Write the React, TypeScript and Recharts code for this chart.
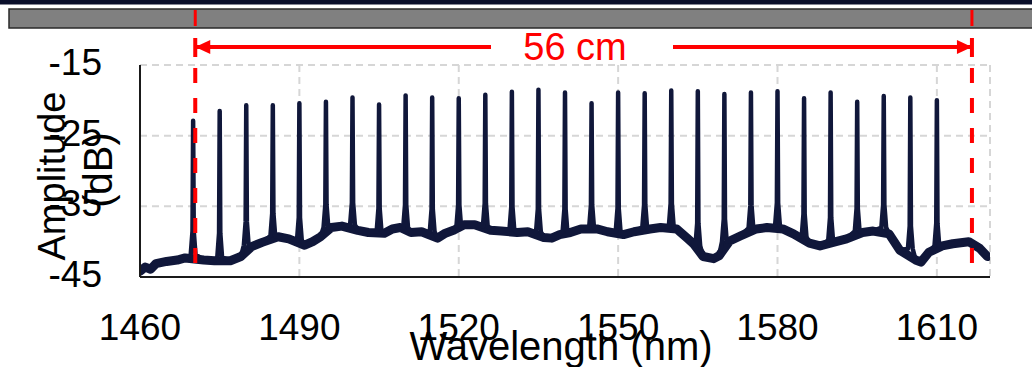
import { CartesianGrid, ComposedChart, Line, XAxis, YAxis } from "recharts";

const W = 1032;
const H = 367;
const PLOT_LEFT = 140;
const PLOT_RIGHT = 990;
const FONT = '"Liberation Sans", Arial, sans-serif';
const TRACE = "#10173a";
const RED = "#ff0000";

const X_DOMAIN: [number, number] = [1460, 1620];
const X_TICKS = [1460, 1490, 1520, 1550, 1580, 1610];
const Y_DOMAIN: [number, number] = [-45, -15];
const Y_TICKS = [-45, -35, -25, -15];

// comb lines, 5 nm apart
const PEAK_WL = [
  1470, 1475, 1480, 1485, 1490, 1495, 1500, 1505, 1510, 1515, 1520, 1525, 1530,
  1535, 1540, 1545, 1550, 1555, 1560, 1565, 1570, 1575, 1580, 1585, 1590, 1595,
  1600, 1605, 1610,
];
const PEAK_DB = [
  -22.9, -21.5, -20.7, -20.7, -20.4, -20.2, -19.6, -20.6, -19.3, -19.6, -19.7,
  -19.2, -18.8, -18.5, -18.9, -20.4, -18.9, -19.0, -18.6, -18.7, -19.1, -18.9,
  -18.7, -19.7, -18.9, -20.2, -19.4, -19.6, -20.0,
];
const PEAK_FOOT_DB = [
  -41.8, -42.2, -40.5, -39.2, -39.8, -38.0, -37.6, -38.5, -38.0, -38.6, -38.0,
  -37.8, -38.3, -38.6, -38.6, -38.0, -38.5, -38.0, -37.8, -40.6, -40.0, -38.1,
  -37.7, -39.3, -39.8, -38.5, -38.0, -41.0, -40.6,
];
// level where each line's skirt turns into the narrow peak
const PEAK_SKIRT_DB = [
  -38.5, -38.8, -37.2, -36.0, -36.6, -34.8, -34.5, -35.3, -34.8, -35.4, -34.8,
  -34.6, -35.1, -35.4, -35.4, -34.8, -35.3, -34.8, -34.6, -37.4, -36.8, -34.9,
  -34.5, -36.1, -36.6, -35.3, -34.8, -37.8, -37.4,
];

// noise floor between the lines
const BASE_WL = [
  1460, 1461, 1462, 1463, 1465, 1467, 1468.5, 1472, 1474, 1477, 1479, 1481, 1483,
  1486, 1488, 1491, 1492.5, 1494, 1496, 1498, 1501, 1503, 1506, 1507.5, 1509,
  1511, 1513, 1516, 1517.5, 1519, 1521, 1523, 1526, 1528, 1531, 1533, 1536,
  1537.5, 1539, 1541, 1543, 1546, 1548, 1551, 1553, 1556, 1558, 1561, 1563,
  1564.2, 1566, 1568, 1569, 1571, 1573, 1576, 1578, 1581, 1583, 1586, 1588, 1591,
  1593, 1596, 1598, 1601, 1603, 1606, 1607, 1608.5, 1611, 1613, 1616, 1618,
  1619.5,
];
const BASE_DB = [
  -44.2, -43.6, -43.9, -43.1, -42.8, -42.6, -42.3, -42.6, -42.7, -42.7, -42.1,
  -40.7, -40.1, -39.3, -39.6, -40.5, -40.0, -39.3, -38.0, -37.8, -38.4, -38.7,
  -38.8, -38.2, -38.0, -38.7, -38.6, -39.5, -38.8, -38.4, -37.6, -37.6, -38.4,
  -38.5, -38.7, -38.6, -39.4, -39.5, -39.0, -38.7, -38.2, -38.2, -38.6, -39.0,
  -38.6, -38.2, -38.0, -38.2, -39.5, -40.3, -42.1, -42.4, -42.0, -39.9, -39.2,
  -38.2, -38.0, -38.2, -38.9, -40.2, -40.6, -40.0, -39.6, -38.7, -38.5, -38.9,
  -41.2, -42.6, -42.9, -41.5, -40.6, -40.3, -40.0, -40.9, -42.1,
];

// 56 cm marker positions (nm)
const SPAN_WL = [1470.4, 1616.6];

const baseData = BASE_WL.map((wl, i) => ({ wl, db: BASE_DB[i] }));

const spectrumData = [
  ...baseData,
  ...PEAK_WL.flatMap((wl, i) => [
    { wl: wl - 0.45, db: PEAK_FOOT_DB[i] },
    { wl: wl - 0.12, db: PEAK_SKIRT_DB[i] },
    { wl, db: PEAK_DB[i] },
    { wl: wl + 0.12, db: PEAK_SKIRT_DB[i] },
    { wl: wl + 0.45, db: PEAK_FOOT_DB[i] },
  ]),
].sort((a, b) => a.wl - b.wl);

function xPx(wl: number) {
  return (
    PLOT_LEFT +
    ((wl - X_DOMAIN[0]) / (X_DOMAIN[1] - X_DOMAIN[0])) * (PLOT_RIGHT - PLOT_LEFT)
  );
}

function XTick({ x, payload }: any) {
  return (
    <text x={x} y={340} textAnchor="middle" fontSize={37} fill="#000" fontFamily={FONT}>
      {payload.value}
    </text>
  );
}

function YTick({ y, payload }: any) {
  return (
    <text x={102} y={y + 10} textAnchor="end" fontSize={37} fill="#000" fontFamily={FONT}>
      {payload.value}
    </text>
  );
}

function Overlay() {
  const [xl, xr] = SPAN_WL.map(xPx);
  const arrowY = 47;
  return (
    <svg
      width={W}
      height={H}
      style={{ position: "absolute", left: 0, top: 0, pointerEvents: "none" }}
      fontFamily={FONT}
    >
      <rect x={0} y={0} width={W} height={4.5} fill="#0a0f2b" />
      <rect x={9} y={9} width={W} height={19} fill="#808080" stroke="#2a2a2a" strokeWidth={1.5} />
      <line x1={xl} x2={xl} y1={10} y2={26} stroke={RED} strokeWidth={3} />
      <line x1={xr} x2={xr} y1={10} y2={26} stroke={RED} strokeWidth={3} />

      <line x1={xl} x2={xl} y1={38} y2={57} stroke={RED} strokeWidth={4} />
      <line x1={xr} x2={xr} y1={38} y2={57} stroke={RED} strokeWidth={4} />
      <line x1={xl} x2={491} y1={arrowY} y2={arrowY} stroke={RED} strokeWidth={4} />
      <line x1={673} x2={xr} y1={arrowY} y2={arrowY} stroke={RED} strokeWidth={4} />
      <polygon
        points={`${xl},${arrowY} ${xl + 15},${arrowY - 7} ${xl + 15},${arrowY + 7}`}
        fill={RED}
      />
      <polygon
        points={`${xr},${arrowY} ${xr - 15},${arrowY - 7} ${xr - 15},${arrowY + 7}`}
        fill={RED}
      />
      <text x={575} y={60} textAnchor="middle" fontSize={38} fill={RED}>
        56 cm
      </text>

      <line x1={xl} x2={xl} y1={68} y2={272} stroke={RED} strokeWidth={4} strokeDasharray="15 15" />
      <line x1={xr} x2={xr} y1={68} y2={272} stroke={RED} strokeWidth={4} strokeDasharray="15 15" />

      <text transform="translate(65,176) rotate(-90)" textAnchor="middle" fontSize={38} fill="#000">
        Amplitude
      </text>
      <text transform="translate(112,170) rotate(-90)" textAnchor="middle" fontSize={40} fill="#000">
        (dB)
      </text>
      <text x={561} y={360} textAnchor="middle" fontSize={40} fill="#000">
        Wavelength (nm)
      </text>
    </svg>
  );
}

export default function App() {
  return (
    <div
      style={{
        position: "absolute",
        left: 0,
        top: 0,
        width: W,
        height: H,
        background: "#fff",
        overflow: "hidden",
      }}
    >
      <ComposedChart width={W} height={H} margin={{ top: 65, right: W - PLOT_RIGHT, bottom: 0, left: 0 }}>
        <CartesianGrid stroke="#d6d6d6" strokeDasharray="7 5" strokeWidth={2} />
        <XAxis
          type="number"
          dataKey="wl"
          domain={X_DOMAIN}
          ticks={X_TICKS}
          interval={0}
          allowDataOverflow
          height={90}
          axisLine={{ stroke: "#1a1a1a", strokeWidth: 2 }}
          tickLine={false}
          tick={<XTick />}
        />
        <YAxis
          type="number"
          domain={Y_DOMAIN}
          ticks={Y_TICKS}
          interval={0}
          allowDataOverflow
          width={PLOT_LEFT}
          axisLine={{ stroke: "#1a1a1a", strokeWidth: 2 }}
          tickLine={false}
          tick={<YTick />}
        />
        <Line
          data={baseData}
          dataKey="db"
          type="linear"
          stroke={TRACE}
          strokeWidth={9}
          strokeLinejoin="round"
          strokeLinecap="round"
          dot={false}
          activeDot={false}
          isAnimationActive={false}
        />
        <Line
          data={spectrumData}
          dataKey="db"
          type="linear"
          stroke={TRACE}
          strokeWidth={4.5}
          strokeLinejoin="round"
          dot={false}
          activeDot={false}
          isAnimationActive={false}
        />
      </ComposedChart>
      <Overlay />
    </div>
  );
}
